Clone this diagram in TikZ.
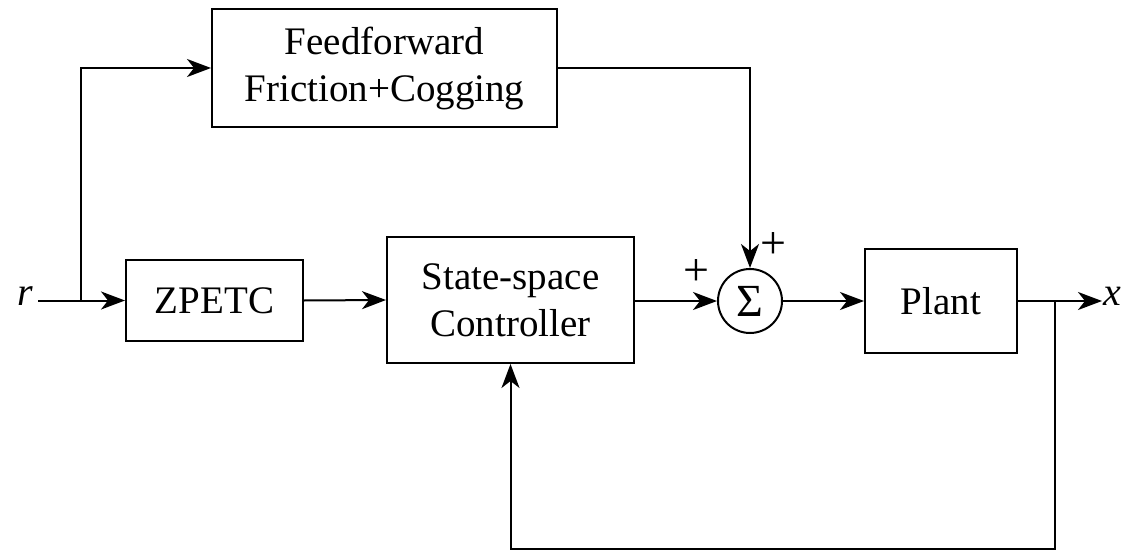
\documentclass[tikz,border=0pt]{standalone}
\usepackage{fontspec}
\setmainfont{Liberation Serif}
\usetikzlibrary{arrows.meta}
\begin{document}
\begin{tikzpicture}[x=1pt,y=-1pt,
  blk/.style={draw,line width=2pt,rectangle,inner sep=0pt,align=center,
    font=\fontsize{39}{47}\selectfont},
  sumc/.style={draw,line width=2pt,circle,inner sep=0pt,minimum size=64pt,
    font=\fontsize{46}{46}\selectfont},
  lab/.style={inner sep=0pt,font=\fontsize{40}{40}\selectfont},
  sgn/.style={inner sep=0pt,font=\fontsize{46}{46}\selectfont},
  wire/.style={line width=2pt},
  arr/.style={wire,-{Stealth[length=24pt,width=18pt,inset=7pt]}}]
\useasboundingbox (0,0) rectangle (1130,551);
\node[blk,minimum width=345pt,minimum height=118pt] (ff) at (384.5,68) {Feedforward\\Friction+Cogging};
\node[blk,minimum width=177pt,minimum height=81pt] (zp) at (214.5,300.5) {ZPETC};
\node[blk,minimum width=247pt,minimum height=126pt] (ctrl) at (510.5,300) {State-space\\Controller};
\node[sumc] (sum) at (750,301) {Σ};
\node[blk,minimum width=152pt,minimum height=104pt] (plant) at (941,301) {Plant};
\node[lab] (r) at (25,296) {\itshape r};
\node[lab] (x) at (1112,296) {\itshape x};
\node[sgn] (p1) at (696,273) {+};
\node[sgn] (p2) at (773,246) {+};
\coordinate (rin) at (38,300.5);
\coordinate (br) at (81,300.5);
\coordinate (xout) at (1102,301);
\coordinate (fb) at (1055,301);
\coordinate (fbb) at (1055,549);
\draw[arr] (rin) -- (zp.west);
\draw[arr] (br) |- (ff.west);
\draw[arr] (ff.east) -| (sum.north);
\draw[arr] (zp.east) -- (ctrl.west);
\draw[arr] (ctrl.east |- sum.west) -- (sum.west);
\draw[arr] (sum.east) -- (plant.west);
\draw[arr] (plant.east) -- (xout);
\draw[arr] (fb) -- (fbb) -| (ctrl.south);
\end{tikzpicture}
\end{document}
